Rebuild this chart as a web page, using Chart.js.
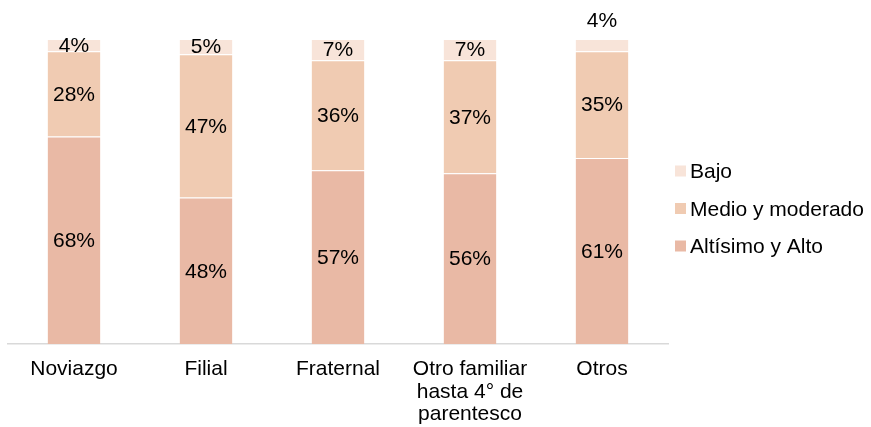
<!DOCTYPE html>
<html>
<head>
<meta charset="utf-8">
<script src="https://cdn.jsdelivr.net/npm/chart.js@4/dist/chart.umd.min.js"></script>
<style>
  html, body { margin: 0; padding: 0; background: #ffffff; }
  #wrap { width: 871px; height: 427px; position: relative; }
</style>
</head>
<body>
<div id="wrap"><canvas id="c" width="871" height="427"></canvas></div>
<script>
// Data
const categories = ['Noviazgo', 'Filial', 'Fraternal', ['Otro familiar', 'hasta 4° de', 'parentesco'], 'Otros'];
const seriesNames = ['Altísimo y Alto', 'Medio y moderado', 'Bajo'];
const altoValues = [68, 48, 57, 56, 61];
const medioValues = [28, 47, 36, 37, 35];
const bajoValues = [4, 5, 7, 7, 4];
const labelAboveCategories = ['Otros'];

const colors = ['#e9b9a5', '#f0cbb2', '#f8e4d9'];
const FONT = '"Liberation Sans", Arial, sans-serif';
const FS = 21;

const dataLabels = {
  id: 'dataLabels',
  afterDatasetsDraw(chart) {
    const ctx = chart.ctx;
    ctx.save();
    ctx.font = FS + 'px ' + FONT;
    ctx.fillStyle = '#000000';
    ctx.textAlign = 'center';
    ctx.textBaseline = 'middle';
    chart.data.datasets.forEach((ds, di) => {
      const meta = chart.getDatasetMeta(di);
      meta.data.forEach((el, i) => {
        const v = ds.data[i];
        const catName = Array.isArray(categories[i]) ? categories[i].join(' ') : categories[i];
        let y = (el.y + el.base) / 2;
        if (di === chart.data.datasets.length - 1 && labelAboveCategories.includes(catName)) {
          y = el.y - 19;
        }
        ctx.fillText(v + '%', el.x, y + 1);
      });
    });
    ctx.restore();
  }
};

const customLegend = {
  id: 'customLegend',
  afterDraw(chart) {
    const ctx = chart.ctx;
    ctx.save();
    ctx.font = FS + 'px ' + FONT;
    ctx.textAlign = 'left';
    ctx.textBaseline = 'middle';
    const dsets = chart.data.datasets.slice().reverse();
    const x0 = 675, y0 = 171.5, step = 37.5;
    dsets.forEach((ds, k) => {
      const y = y0 + k * step;
      ctx.fillStyle = ds.backgroundColor;
      ctx.fillRect(x0, y - 6, 11, 11);
      ctx.fillStyle = '#000000';
      ctx.fillText(ds.label, x0 + 15, y + 1);
    });
    ctx.restore();
  }
};

new Chart(document.getElementById('c'), {
  type: 'bar',
  data: {
    labels: categories,
    datasets: [
      { label: seriesNames[0], data: altoValues, backgroundColor: colors[0] },
      { label: seriesNames[1], data: medioValues, backgroundColor: colors[1] },
      { label: seriesNames[2], data: bajoValues, backgroundColor: colors[2] }
    ]
  },
  options: {
    responsive: false,
    animation: false,
    layout: { padding: { left: 8, right: 203, top: 39, bottom: 0 } },
    datasets: {
      bar: {
        categoryPercentage: 1,
        barPercentage: 0.4,
        borderWidth: { top: 1, left: 0, right: 0, bottom: 0 },
        borderColor: 'rgba(255,255,255,0.3)',
        borderSkipped: false
      }
    },
    plugins: {
      legend: { display: false },
      tooltip: { enabled: false }
    },
    scales: {
      x: {
        stacked: true,
        grid: { display: false, drawTicks: false },
        border: { display: true, color: '#d9d9d9', width: 1.5 },
        ticks: {
          color: '#000000',
          font: { family: FONT, size: FS, lineHeight: 1.08 },
          padding: 14,
          maxRotation: 0,
          autoSkip: false
        },
        afterFit(scale) { scale.height = 83; }
      },
      y: {
        stacked: true,
        display: false,
        min: 0,
        max: 100
      }
    }
  },
  plugins: [dataLabels, customLegend]
});
</script>
</body>
</html>
